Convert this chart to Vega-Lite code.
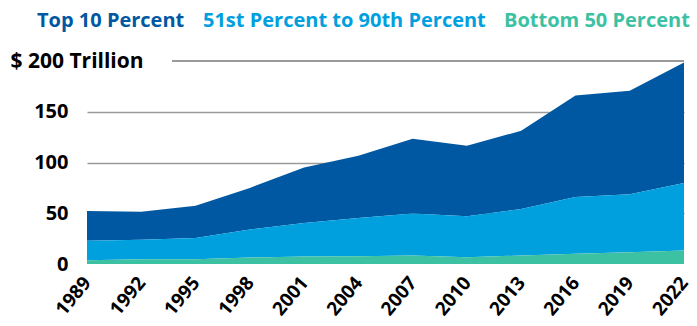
{
  "$schema": "https://vega.github.io/schema/vega-lite/v6.json",
  "width": 597,
  "height": 203,
  "autosize": {"type": "none"},
  "padding": {"left": 87, "top": 61, "right": 13, "bottom": 62},
  "background": "white",
  "config": {
    "view": {"stroke": null},
    "font": "Open Sans"
  },
  "data": {
    "values": [
      {"year": 1989, "group": "Top 10 Percent", "order": 3, "value": 29.5},
      {"year": 1992, "group": "Top 10 Percent", "order": 3, "value": 27.8},
      {"year": 1995, "group": "Top 10 Percent", "order": 3, "value": 31.8},
      {"year": 1998, "group": "Top 10 Percent", "order": 3, "value": 41.0},
      {"year": 2001, "group": "Top 10 Percent", "order": 3, "value": 54.5},
      {"year": 2004, "group": "Top 10 Percent", "order": 3, "value": 61.3},
      {"year": 2007, "group": "Top 10 Percent", "order": 3, "value": 73.7},
      {"year": 2010, "group": "Top 10 Percent", "order": 3, "value": 69.5},
      {"year": 2013, "group": "Top 10 Percent", "order": 3, "value": 77.0},
      {"year": 2016, "group": "Top 10 Percent", "order": 3, "value": 100.0},
      {"year": 2019, "group": "Top 10 Percent", "order": 3, "value": 101.9},
      {"year": 2022, "group": "Top 10 Percent", "order": 3, "value": 118.6},
      {"year": 1989, "group": "51st Percent to 90th Percent", "order": 2, "value": 19.1},
      {"year": 1992, "group": "51st Percent to 90th Percent", "order": 2, "value": 19.1},
      {"year": 1995, "group": "51st Percent to 90th Percent", "order": 2, "value": 21.0},
      {"year": 1998, "group": "51st Percent to 90th Percent", "order": 2, "value": 27.6},
      {"year": 2001, "group": "51st Percent to 90th Percent", "order": 2, "value": 33.1},
      {"year": 2004, "group": "51st Percent to 90th Percent", "order": 2, "value": 37.7},
      {"year": 2007, "group": "51st Percent to 90th Percent", "order": 2, "value": 41.3},
      {"year": 2010, "group": "51st Percent to 90th Percent", "order": 2, "value": 40.3},
      {"year": 2013, "group": "51st Percent to 90th Percent", "order": 2, "value": 45.9},
      {"year": 2016, "group": "51st Percent to 90th Percent", "order": 2, "value": 56.0},
      {"year": 2019, "group": "51st Percent to 90th Percent", "order": 2, "value": 57.1},
      {"year": 2022, "group": "51st Percent to 90th Percent", "order": 2, "value": 66.4},
      {"year": 1989, "group": "Bottom 50 Percent", "order": 1, "value": 3.7},
      {"year": 1992, "group": "Bottom 50 Percent", "order": 1, "value": 4.7},
      {"year": 1995, "group": "Bottom 50 Percent", "order": 1, "value": 4.7},
      {"year": 1998, "group": "Bottom 50 Percent", "order": 1, "value": 6.4},
      {"year": 2001, "group": "Bottom 50 Percent", "order": 1, "value": 7.4},
      {"year": 2004, "group": "Bottom 50 Percent", "order": 1, "value": 7.7},
      {"year": 2007, "group": "Bottom 50 Percent", "order": 1, "value": 8.4},
      {"year": 2010, "group": "Bottom 50 Percent", "order": 1, "value": 6.7},
      {"year": 2013, "group": "Bottom 50 Percent", "order": 1, "value": 8.4},
      {"year": 2016, "group": "Bottom 50 Percent", "order": 1, "value": 10.0},
      {"year": 2019, "group": "Bottom 50 Percent", "order": 1, "value": 11.6},
      {"year": 2022, "group": "Bottom 50 Percent", "order": 1, "value": 13.4}
    ]
  },
  "layer": [
    {
      "mark": {"type": "rule", "color": "#9a9a9a", "strokeWidth": 1.5},
      "encoding": {
        "y": {"datum": 200, "type": "quantitative"},
        "x": {"datum": 1993.7, "type": "quantitative"},
        "x2": {"datum": 2022}
      }
    },
    {
      "mark": {"type": "area", "interpolate": "linear"},
      "encoding": {
        "x": {
          "field": "year",
          "type": "quantitative",
          "scale": {"domain": [1989, 2022], "nice": false, "zero": false},
          "axis": {
            "title": null,
            "values": [1989, 1992, 1995, 1998, 2001, 2004, 2007, 2010, 2013, 2016, 2019, 2022],
            "format": "d",
            "grid": false,
            "domain": false,
            "ticks": false,
            "tickSize": 0,
            "labelAngle": -50,
            "labelFont": "Open Sans",
            "labelFontWeight": "bold",
            "labelFontSize": 19,
            "labelColor": "#000000",
            "labelPadding": 15,
            "labelFlush": false,
            "labelOverlap": false
          }
        },
        "y": {
          "field": "value",
          "type": "quantitative",
          "stack": "zero",
          "scale": {"domain": [0, 200], "nice": false},
          "axis": {
            "title": null,
            "values": [0, 50, 100, 150, 200],
            "labelExpr": "datum.value == 200 ? '$ 200 Trillion' : datum.label",
            "domain": false,
            "ticks": false,
            "tickSize": 0,
            "grid": true,
            "gridColor": "#9a9a9a",
            "gridWidth": 1.5,
            "gridOpacity": {"condition": {"test": "datum.value == 200 || datum.value == 0", "value": 0}, "value": 1},
            "labelFont": "Open Sans",
            "labelFontWeight": "bold",
            "labelFontSize": {"condition": {"test": "datum.value == 200", "value": 21}, "value": 20},
            "labelColor": "#000000",
            "labelAlign": {"condition": {"test": "datum.value == 200", "value": "left"}, "value": "right"},
            "labelPadding": {"condition": {"test": "datum.value == 200", "value": 77}, "value": 19},
            "labelBaseline": "middle"
          }
        },
        "color": {
          "field": "group",
          "type": "nominal",
          "scale": {
            "domain": ["Top 10 Percent", "51st Percent to 90th Percent", "Bottom 50 Percent"],
            "range": ["#0058a2", "#00a0df", "#3cc1a2"]
          },
          "legend": {
            "title": null,
            "orient": "none",
            "direction": "horizontal",
            "legendX": -70,
            "legendY": -50,
            "gridAlign": "none",
            "symbolSize": 0,
            "symbolOpacity": 0,
            "symbolStrokeWidth": 0,
            "labelOffset": 0,
            "columnPadding": -2,
            "labelFont": "Open Sans",
            "labelFontWeight": "bold",
            "labelFontSize": 20,
            "labelLimit": 400,
            "encode": {
              "labels": {"update": {"fill": {"scale": "color", "field": "value"}}}
            }
          }
        },
        "order": {"field": "order", "type": "quantitative"}
      }
    }
  ]
}
